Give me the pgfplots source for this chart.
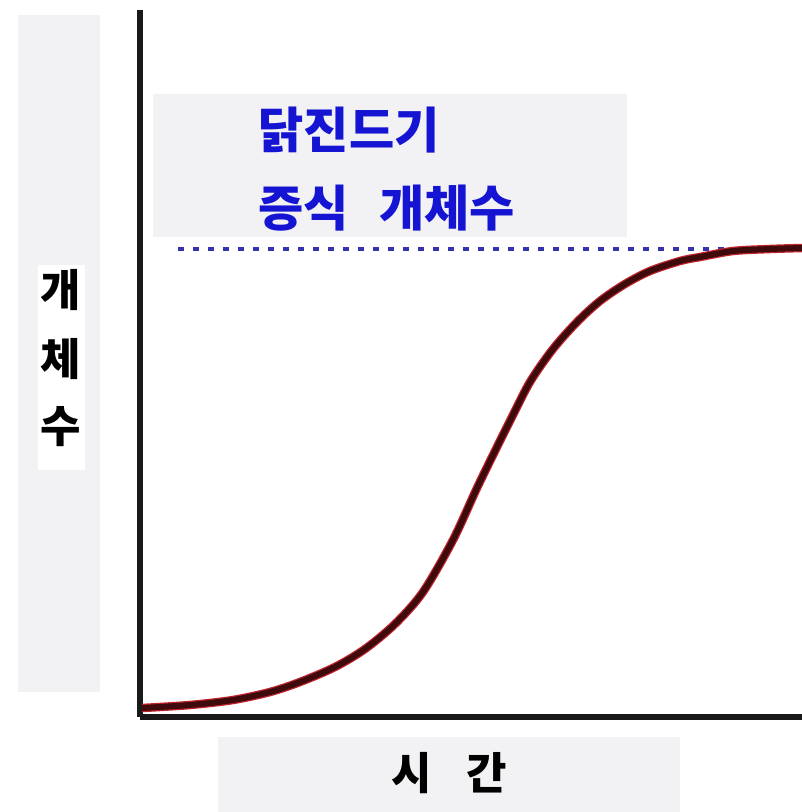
\documentclass[border=0pt]{standalone}
\usepackage{fontspec}
\usepackage{pgfplots}
\usepackage{pgfplotstable}
\pgfplotsset{compat=1.18}
\newfontfamily\kr{Noto Sans CJK KR}
\definecolor{boxgray}{HTML}{F2F2F4}
\definecolor{curvecol}{HTML}{3E0A0C}
\definecolor{halo}{HTML}{C0242C}
\definecolor{titleblue}{HTML}{1414D2}
\definecolor{dotblue}{HTML}{3434B0}

% growth curve (x = px-140, y = 717-py)
\pgfplotstableread{
x y
2 9
50 12
93 17
130 25
160 35
195 50
225 68
255 93
283 125
313 177
337 229
357 270
370 296
390 335
413 368
437 395
460 416
485 433
510 446
540 456
560 460
593 466
630 468
662 469
}\growth

\begin{document}
\begin{tikzpicture}
\begin{axis}[
    scale only axis,
    width=66.2mm, height=70.7mm,
    xmin=0, xmax=662, ymin=0, ymax=707,
    axis x line=bottom, axis y line=left,
    axis line style={-, line width=0.6mm, black!90},
    xtick=\empty, ytick=\empty,
    clip=false,
]
% grey panels behind the labels
\fill[boxgray] (axis cs:-122,25) rectangle (axis cs:-40,702);
\fill[white] (axis cs:-102,247) rectangle (axis cs:-55,452);
\fill[boxgray] (axis cs:13,480) rectangle (axis cs:487,623);
\fill[boxgray] (axis cs:78,-20) rectangle (axis cs:540,-95);

% carrying capacity
\addplot[dotblue, line width=0.4mm, dash pattern=on 0.6mm off 0.9mm] coordinates {
  (38,468)(592,468)
};
% logistic growth curve (red halo + dark core)
\addplot[halo, line width=0.85mm, smooth] table {\growth};
\addplot[curvecol, line width=0.6mm, smooth] table {\growth};

% labels
\node[font=\kr\bfseries\fontsize{14}{14}\selectfont, titleblue, anchor=west, inner sep=0pt]
  at (axis cs:118,587) {닭진드기};
\node[font=\kr\bfseries\fontsize{14}{14}\selectfont, titleblue, anchor=west, inner sep=0pt]
  at (axis cs:118,509) {증식\hspace{3.0mm}개체수};
\node[font=\kr\bfseries\fontsize{12.5}{12.5}\selectfont, inner sep=0pt] at (axis cs:-79,427) {개};
\node[font=\kr\bfseries\fontsize{12.5}{12.5}\selectfont, inner sep=0pt] at (axis cs:-79,358) {체};
\node[font=\kr\bfseries\fontsize{12.5}{12.5}\selectfont, inner sep=0pt] at (axis cs:-79,290) {수};
\node[font=\kr\bfseries\fontsize{12.5}{12.5}\selectfont, inner sep=0pt] at (axis cs:309,-56) {시\hspace{3.5mm}간};

\coordinate (bl) at (axis cs:-140,-95);
\coordinate (tr) at (axis cs:662,717);
\end{axis}
\pgfresetboundingbox
\path (bl) rectangle (tr);
\end{tikzpicture}
\end{document}
